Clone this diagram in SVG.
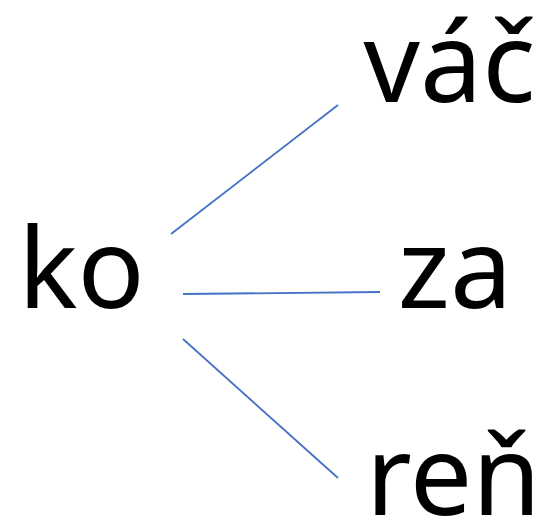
<svg xmlns="http://www.w3.org/2000/svg" width="549" height="520" viewBox="0 0 549 520">
<style>
.t{font-family:"Noto Sans","Open Sans","DejaVu Sans",sans-serif;font-size:111px;fill:#000;text-anchor:middle}
.c{stroke:#4472C4;stroke-width:1.8;fill:none}
</style>
<rect width="549" height="520" fill="#fff"/>
<g id="connectors">
<line class="c" x1="171" y1="234" x2="338" y2="105"/>
<line class="c" x1="183" y1="294" x2="380" y2="292"/>
<line class="c" x1="183" y1="339" x2="338" y2="478"/>
</g>
<g id="n-ko"><text class="t" x="81.5" y="308">ko</text></g>
<g id="n-vac"><text class="t" x="449.5" y="102">váč</text></g>
<g id="n-za"><text class="t" x="455" y="308">za</text></g>
<g id="n-ren"><text class="t" x="453.5" y="515">reň</text></g>
</svg>
